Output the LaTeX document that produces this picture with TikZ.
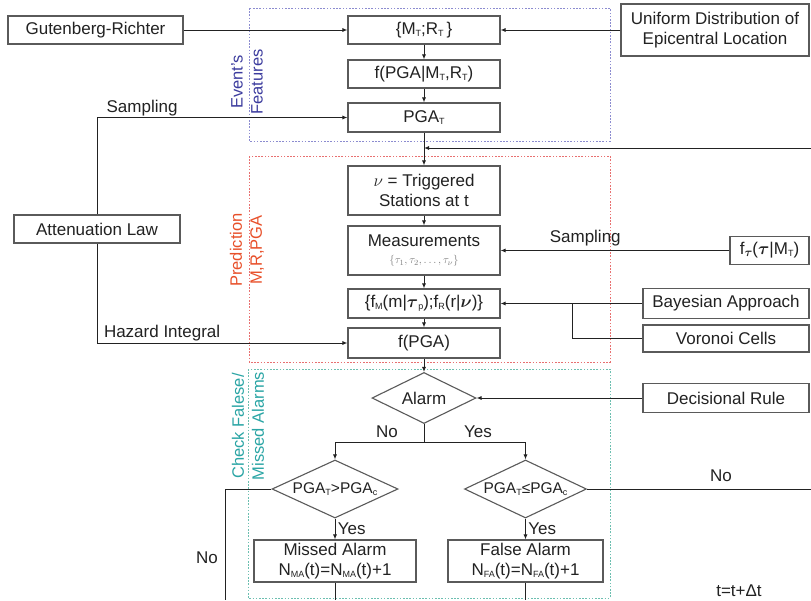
\documentclass[tikz,border=0pt]{standalone}
\usepackage{amsmath}
\usepackage{fontspec}
\setmainfont{Liberation Sans}
\usetikzlibrary{shapes.geometric,arrows.meta}
\definecolor{boxline}{HTML}{5A5A5A}
\definecolor{ink}{HTML}{222222}
\definecolor{evblue}{HTML}{3C3C9E}
\definecolor{prred}{HTML}{E8502A}
\definecolor{chteal}{HTML}{2AA5A5}
\definecolor{dblue}{HTML}{8C8CD0}
\definecolor{dred}{HTML}{E87070}
\definecolor{dteal}{HTML}{6CBFB0}
\newcommand\sbs[1]{\raisebox{-0.12em}{\fontsize{9}{10}\selectfont #1}}
\tikzset{
  base/.style={font=\fontsize{17}{20}\selectfont, text=ink},
  box/.style={base, draw=boxline, line width=1.1pt, fill=white, rectangle, inner sep=0pt, align=center},
  dia/.style={base, draw=boxline, line width=1.1pt, fill=white, diamond, inner sep=0pt, align=center},
  arr/.style={draw=ink, line width=0.9pt, -{Latex[length=5pt,width=4pt]}},
  ln/.style={draw=ink, line width=0.9pt},
  lbl/.style={base},
  zone/.style={line width=0.9pt, dash pattern=on 1.6pt off 1.6pt},
  zlabel/.style={font=\fontsize{16.5}{20}\selectfont, rotate=90, align=center}
}
\begin{document}
\begin{tikzpicture}[x=1pt,y=-1pt]
\useasboundingbox[fill=white] (0,0) rectangle (811,600);
% zones
\draw[zone, draw=dblue] (249,8) rectangle (610,141);
\draw[zone, draw=dred] (249,156) rectangle (610,362);
\draw[zone, draw=dteal] (248,369) rectangle (610,598);
\node[zlabel, text=evblue] (zev) at (247,82) {Event's\\Features};
\node[zlabel, text=prred] (zpr) at (247,250) {Prediction\\M,R,PGA};
\node[zlabel, text=chteal] (zch) at (248,426) {Check Falese/\\Missed Alarms};
% left column
\node[box, minimum width=175pt, minimum height=28pt] (gr) at (95.5,30) {Gutenberg-Richter};
\node[box, minimum width=166pt, minimum height=28pt] (att) at (97,229) {Attenuation Law};
% main column
\node[box, minimum width=152pt, minimum height=28pt] (mr) at (424,30) {\{M\sbs{T};R\sbs{T}\,\}};
\node[box, minimum width=152pt, minimum height=28pt] (fpga) at (424,74) {f(PGA|M\sbs{T},R\sbs{T})};
\node[box, minimum width=152pt, minimum height=29pt] (pgat) at (424,117.5) {PGA\sbs{T}};
\node[box, minimum width=152pt, minimum height=49pt] (nu) at (424,190.5) {$\nu$ = Triggered\\Stations at t};
\node[box, minimum width=152pt, minimum height=49pt] (meas) at (424,250.5) {Measurements\\[-3pt]{\fontsize{11}{12}\selectfont\color{gray}$\{\tau_1,\tau_2,\ldots,\tau_\nu\}$}};
\node[box, minimum width=152pt, minimum height=29pt] (fm) at (424,303.5) {\{f\sbs{M}(m|$\boldsymbol\tau$\sbs{p});f\sbs{R}(r|$\boldsymbol\nu$)\}};
\node[box, minimum width=152pt, minimum height=30pt] (fp) at (424,343) {f(PGA)};
% right column
\node[box, minimum width=188pt, minimum height=52pt] (unif) at (715,30) {Uniform Distribution of\\Epicentral Location};
\node[box, minimum width=79pt, minimum height=28pt] (ftau) at (769.5,250.5) {f{\raisebox{-0.1em}{$\scriptstyle\boldsymbol\tau$}}($\boldsymbol\tau$|M\sbs{T})};
\node[box, minimum width=166pt, minimum height=30pt] (bay) at (726,303.5) {Bayesian Approach};
\node[box, minimum width=166pt, minimum height=27pt] (vor) at (726,338.5) {Voronoi Cells};
\node[box, minimum width=166pt, minimum height=29pt] (dec) at (726,398) {Decisional Rule};
% decisions
\node[dia, aspect=2.04, minimum width=104pt, minimum height=51pt] (alarm) at (424,398) {Alarm};
\node[dia, aspect=2.17, minimum width=126pt, minimum height=58pt, font=\fontsize{15.5}{18}\selectfont] (d1) at (335,489) {PGA\sbs{T}>PGA\sbs{c}};
\node[dia, aspect=2.1, minimum width=122pt, minimum height=58pt, font=\fontsize{15.5}{18}\selectfont] (d2) at (525.5,489) {PGA\sbs{T}≤PGA\sbs{c}};
\node[box, minimum width=162pt, minimum height=42pt] (ma) at (335,561) {Missed Alarm\\N\sbs{MA}(t)=N\sbs{MA}(t)+1};
\node[box, minimum width=155pt, minimum height=42pt] (fa) at (525.5,561) {False Alarm\\N\sbs{FA}(t)=N\sbs{FA}(t)+1};
% coordinates
\coordinate (ret) at (811,148);
\coordinate (jn) at (424,148);
\coordinate (vj) at (572,303.5);
\coordinate (br) at (424,442);
\coordinate (noL) at (225,600);
\coordinate (noR) at (811,489);
\coordinate (maE) at (335,600);
\coordinate (faE) at (525.5,600);
% connectors
\draw[arr] (gr.east) -- (mr.west);
\draw[arr] (unif.west) -- (mr.east);
\draw[arr] (mr.south) -- (fpga.north);
\draw[arr] (fpga.south) -- (pgat.north);
\draw[arr] (pgat.south) -- (nu.north);
\draw[arr] (ret) -- (jn);
\draw[arr] (nu.south) -- (meas.north);
\draw[arr] (meas.south) -- (fm.north);
\draw[arr] (fm.south) -- (fp.north);
\draw[arr] (fp.south) -- (alarm.north);
\draw[arr] (att.north) |- node[lbl, pos=0.59, above=-2pt] {Sampling} (pgat.west);
\draw[arr] (att.south) |- node[lbl, pos=0.63, above=-2pt] {Hazard Integral} (fp.west);
\draw[arr] (ftau.west) -- node[lbl, pos=0.63, above=1pt] {Sampling} (meas.east);
\draw[arr] (bay.west) -- (fm.east);
\draw[ln] (vor.west) -| (vj);
\draw[arr] (dec.west) -- (alarm.east);
\draw[ln] (alarm.south) -- (br);
\draw[arr] (br) -| (d1.north);
\draw[arr] (br) -| (d2.north);
\node[lbl] (lno) at (387,432) {No};
\node[lbl] (lyes) at (478,432) {Yes};
\draw[arr] (d1.south) -- node[lbl, right=-1pt, pos=0.5] {Yes} (ma.north);
\draw[arr] (d2.south) -- node[lbl, right=-1pt, pos=0.5] {Yes} (fa.north);
\draw[ln] (d1.west) -| (noL);
\node[lbl] (lno2) at (207,558) {No};
\draw[ln] (d2.east) -- (noR);
\node[lbl] (lno3) at (721,476) {No};
\draw[ln] (ma.south) -- (maE);
\draw[ln] (fa.south) -- (faE);
\node[lbl] (tdt) at (739,591) {t=t+Δt};
\end{tikzpicture}
\end{document}
